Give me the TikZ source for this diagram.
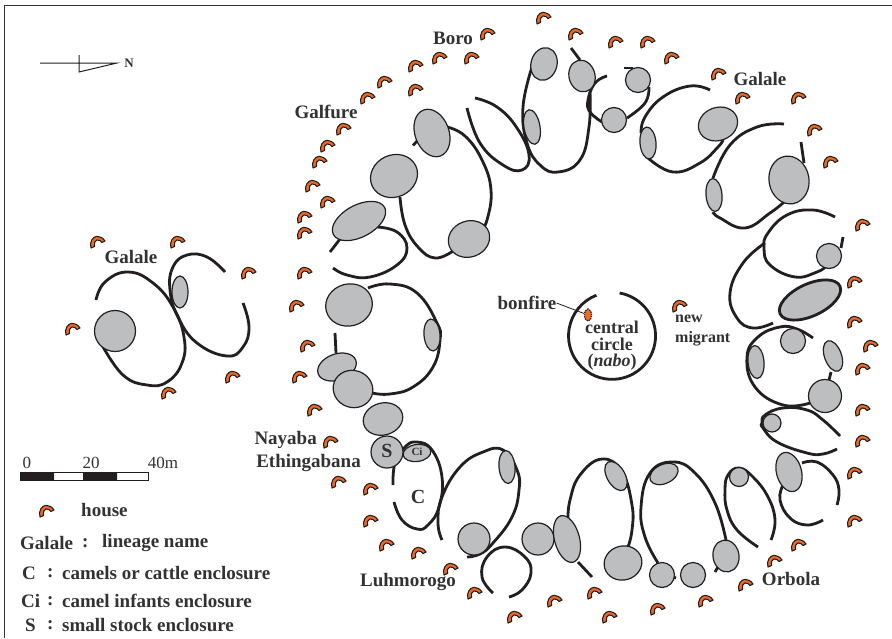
\documentclass[tikz,border=0pt]{standalone}
\usepackage{fontspec}
\setmainfont{Liberation Serif}
\usepackage{xcolor}
\usetikzlibrary{positioning,shapes.geometric}
\definecolor{inkc}{HTML}{231F20}
\definecolor{txtc}{HTML}{333132}
\definecolor{penc}{HTML}{BCBEC0}
\definecolor{hutc}{HTML}{F26A21}
\tikzset{
  fence/.style={draw=inkc,line width=2.8pt,line cap=butt},
  pen/.style={draw=inkc,fill=penc,line width=1.2pt},
  hut/.style={draw=inkc,fill=hutc,line width=1.1pt,line join=round},
  lin/.style={font=\fontsize{19}{19}\selectfont\bfseries,text=txtc,inner sep=0pt},
  lgd/.style={font=\fontsize{19}{19}\selectfont\bfseries,text=txtc,inner sep=0pt,anchor=west},
  sclab/.style={font=\fontsize{17}{17}\selectfont,text=txtc,inner sep=0pt}
}
% pen enclosure: x, y, rx, ry, rotation
\newcommand{\penat}[6][pen]{\draw[#1,rotate around={#6:(#2,#3)}] (#2,#3) ellipse (#4 and #5);}
\newcommand{\fenceat}[1]{\draw[fence] plot[smooth,tension=0.75] coordinates {#1};}
\begin{document}
\begin{tikzpicture}[x=1pt,y=-1pt]
  \useasboundingbox (0,0) rectangle (892,638);
  % frame
  \draw[draw=txtc,line width=1.2pt] (4.5,638) -- (4.5,5.5) -- (892,5.5);

  % north sign
  \node[font=\fontsize{13}{13}\selectfont\bfseries,text=txtc,inner sep=0pt] (north) at (129,63) {N};
  \draw[inkc,line width=1pt] (40,63) -- (117,63) -- (79,72) -- (79,55);

  % houses
  \foreach \x/\y in {543/18,487/34,575/34,439/58,471/58,415/66,384/82,415/90,367/98,
    343/129,327/146,319/162,312/186,327/202,304/217,304/233,304/273,296/306,307/346,
    299/377,314/410,330/442,338/482,370/489,370/521,386/545,418/553,450/569,474/593,
    514/617,554/601,594/593,609/617,657/609,705/601,745/585,774/561,798/545,854/521,
    854/473,862/441,862/410,862/369,870/346,854/322,854/282,862/225,830/162,814/130,
    798/98,742/98,718/74,671/58,647/42,615/42,679/306,97/242,177/242,248/273,72/329,
    232/377,168/393,46/511}
    \draw[hut,shift={(\x,\y)}] (-6,6) .. controls (-8,0) and (-4,-5.5) .. (0,-5.7)
      .. controls (3,-5.8) and (6,-4) .. (8,-1) -- (5,0.5)
      .. controls (4,-1.5) and (2,-2) .. (0,-2)
      .. controls (-2,-2) and (-3,1) .. (-2.5,4.5) -- cycle;

  % fences, main ring
  \fenceat{(447,127)(465,136)(482,160)(491,190)(487,220)(480,232)}
  \fenceat{(453,251)(435,258)(418,247)(405,225)(400,197)}
  \fenceat{(413,145.5)(418,140)}
  \fenceat{(475,98)(497,107)(517,128)(529,155)(522,170)(503,165)(480,143)(467,108)}
  \fenceat{(532,67)(523,107)(527,143)(540,165)(558,172)(580,160)(589,127)(590,92)}
  \fenceat{(571,48)(580,60)}
  \fenceat{(624,68)(633,68)}
  \fenceat{(649,87)(645,103)(627,118)}
  \fenceat{(607,76)(595,83)(588,100)(590,112)(602,122)}
  \fenceat{(710,90)(690,86)(663,97)(645,117)(641,133)}
  \fenceat{(648,158)(673,172)(700,163)(718,147)(723,140)}
  \fenceat{(784,124)(757,127)(730,145)(713,178)}
  \fenceat{(713,212)(720,218)(745,228)(770,213)(784,202)}
  \fenceat{(801,142)(804,163)}
  \fenceat{(835,217)(813,210)(787,215)(768,233)(764,248)(770,265)(795,277)(817,272)(825,267)}
  \fenceat{(843,237)(841,248)}
  \fenceat{(765,243)(743,263)(730,293)(737,318)(753,328)(773,323)}
  \fenceat{(813,338)(797,329)(780,327)(758,337)(747,357)(755,387)(783,405)(810,403)}
  \fenceat{(831,372)(829,380)}
  \fenceat{(840,436)(823,420)(807,410)(783,408)(765,415)(762,423)(763,428)(777,442)(807,453)(823,454)(837,449)}
  \fenceat{(802,463)(817,462)(833,475)(839,490)(837,505)}
  \fenceat{(783,485)(780,500)(790,518)(807,525)(823,520)}
  \fenceat{(758,547)(737,530)(727,510)(725,490)(728,475)(739,468)(753,477)(768,497)(775,520)(771,540)}
  \fenceat{(658,563)(645,537)(641,507)(650,473)(673,462)(695,473)(715,503)(726,540)}
  \fenceat{(673,577)(676,578)}
  \fenceat{(715,572)(718,567)}
  \fenceat{(592,577)(578,562)}
  \fenceat{(568,520)(570,500)(580,475)(602,459)(622,472)(632,505)(632,530)(628,547)}
  \fenceat{(442,540)(438,523)(442,497)(460,467)(483,452)(503,450)(517,470)(519,490)(512,517)(493,543)(480,554)(467,557)}
  \fenceat{(393,485)(395,463)(405,447)(417,442)(432,450)(442,477)(439,507)(428,525)(417,529)(402,520)(394,502)}
  \fenceat{(493,593)(482,577)(487,557)(505,547)(525,557)(531,573)(522,590)(509,597)}
  \fenceat{(368,288)(390,284)(417,293)(437,323)(440,340)(433,367)(413,387)(390,394)(372,393)}
  \fenceat{(335,333)(336,353)}
  \fenceat{(377,227)(397,232)(407,248)(397,265)(370,277)(347,275)(333,268)}
  \fenceat{(330,252)(340,239)}
  % fences, left group
  \fenceat{(96,300)(105,282)(128,272)(153,283)(173,307)(184,337)(182,363)(167,382)(147,385)(123,375)(102,345)}
  \fenceat{(225,272)(207,257)(187,255)(173,267)(170,290)(178,317)(197,343)(227,356)(243,347)(249,327)(243,303)}

  % central circle
  \draw[fence] (619.6,293) arc[start angle=80,end angle=-249,radius=43.5pt];

  % pens
  \penat{432}{133}{17}{24.5}{20}
  \penat{394}{176}{24}{21}{25}
  \penat{359}{221}{29}{16}{28}
  \penat{469}{239}{21}{18}{20}
  \penat{349}{305}{23.5}{21}{15}
  \penat{432}{335}{8}{16}{5}
  \penat{337}{367}{20}{13}{20}
  \penat{353}{389}{20}{18.5}{-20}
  \penat{383}{419}{20}{16}{15}
  \penat{387}{452}{16}{16}{0}
  \penat{417}{453}{14}{8.5}{8}
  \penat{544}{64}{13}{16.5}{-15}
  \penat{532}{127}{8}{17.5}{10}
  \penat{582}{76}{13}{16}{15}
  \penat{638}{80}{12.5}{12.5}{0}
  \penat{614}{120}{12.5}{12.5}{0}
  \penat{648}{143}{8}{16}{5}
  \penat{718}{124}{20}{16.5}{20}
  \penat{714}{195}{8}{16.5}{5}
  \penat{789}{180}{20}{24}{10}
  \penat{829}{256}{12.5}{12.5}{0}
  \penat[pen,line width=2.8pt]{810}{300}{33}{16}{25}
  \penat{793}{341}{12.5}{12.5}{0}
  \penat{756}{362}{8}{16.5}{5}
  \penat{833}{356}{8.5}{16}{20}
  \penat{825}{396}{16.5}{16.5}{0}
  \penat{772}{423}{9}{9}{0}
  \penat{789}{472}{12.5}{20}{15}
  \penat{739}{477}{9.5}{9.5}{0}
  \penat{664}{474}{15}{9.5}{25}
  \penat{726}{556}{13}{16}{10}
  \penat{693}{575}{12.5}{12.5}{0}
  \penat{662}{575}{12.5}{12.5}{0}
  \penat{623}{563}{19}{17}{15}
  \penat{616}{476}{9}{16}{30}
  \penat{507}{467}{8}{16.5}{5}
  \penat{474}{539}{16}{16}{0}
  \penat{538}{539}{16}{16}{0}
  \penat{567}{539}{12.5}{24}{15}
  \penat{115}{331}{20.5}{20.5}{0}
  \penat{180}{292}{8}{16}{0}

  % bonfire
  \node[draw=inkc,densely dotted,fill=hutc,ellipse,minimum width=7pt,minimum height=12pt,inner sep=0pt,line width=1.3pt] (fire) at (588,315) {};
  \node[lin] (bonfire) at (527,303) {bonfire};
  \draw[inkc,line width=0.8pt] (bonfire.east) -- (fire);

  % names
  \node[lin] (boro) at (453,38) {Boro};
  \node[lin] (galfure) at (326,112) {Galfure};
  \node[lin] (galalea) at (760,79) {Galale};
  \node[lin] (galaleb) at (131,257) {Galale};
  \node[lin,anchor=east] (nayaba) at (317,440) {Nayaba};
  \node[lin,anchor=east] (ethin) at (361,463) {Ethingabana};
  \node[lin] (luh) at (408,582) {Luhmorogo};
  \node[lin] (orbola) at (791,579) {Orbola};
  \node[lin,font=\fontsize{20}{20}\selectfont\bfseries] (cpen) at (418,497) {C};
  \node[lin,font=\fontsize{20}{20}\selectfont\bfseries] (spen) at (387,451) {S};
  \node[lin,font=\fontsize{11}{11}\selectfont\bfseries] (cipen) at (417,452) {Ci};
  \node[lin,align=left,anchor=north west,font=\fontsize{16}{20}\selectfont\bfseries] (migrant) at (675,315) {new\\migrant};
  \node[lin,align=center,font=\fontsize{18}{16.5}\selectfont\bfseries] (nabo) at (612,346) {central\\circle\\(\textit{nabo})};

  % scale
  \fill[inkc] (20,472) rectangle (54,480) (83,472) rectangle (117,480);
  \draw[inkc,line width=1pt] (20,472) rectangle (148,480);
  \node[sclab] (sc0) at (27,463) {0};
  \node[sclab] (sc20) at (91,463) {20};
  \node[sclab] (sc40) at (163,463) {40m};

  % legend
  \node[lgd] (lhouse) at (81,510) {house};
  \node[lgd] (lgal) at (20,543) {Galale};
  \node[lgd] (lcol) at (82,543) {:};
  \node[lgd] (llin) at (102,543) {lineage name};
  \node[lgd] (lc) at (22,573) {C};
  \node[lgd] (lcc) at (47,573) {:};
  \node[lgd] (lcam) at (62,573) {camels or cattle enclosure};
  \node[lgd] (lci) at (21,601) {Ci};
  \node[lgd] (lcic) at (47,601) {:};
  \node[lgd] (linf) at (62,601) {camel infants enclosure};
  \node[lgd] (ls) at (25,625) {S};
  \node[lgd] (lsc) at (47,625) {:};
  \node[lgd] (lsm) at (62,625) {small stock enclosure};
\end{tikzpicture}
\end{document}
